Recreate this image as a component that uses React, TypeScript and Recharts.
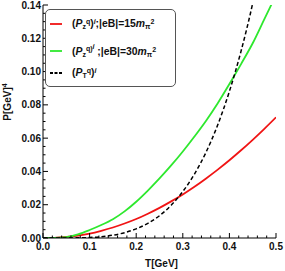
import React from 'react';
import {
  LineChart, Line, XAxis, YAxis, Legend,
} from 'recharts';

// temperature grid (GeV)
const T_VALUES = [
  0, 0.025, 0.05, 0.075, 0.1, 0.125, 0.15, 0.175, 0.2, 0.225, 0.25,
  0.275, 0.3, 0.325, 0.35, 0.375, 0.4, 0.425, 0.45, 0.475, 0.5,
];
// (Pz^q)^i, |eB| = 15 m_pi^2
const RED_VALUES = [
  0, 0.0001, 0.0006, 0.0014, 0.0026, 0.0043, 0.0063, 0.0087, 0.0114, 0.0146, 0.0181,
  0.022, 0.0262, 0.0308, 0.0358, 0.0411, 0.0467, 0.0527, 0.059, 0.0656, 0.0725,
];
// (Pz^q)^i, |eB| = 30 m_pi^2
const GREEN_VALUES = [
  0, 0.0, 0.0005, 0.0022, 0.0048, 0.0078, 0.0113, 0.016, 0.0218, 0.0285, 0.0358,
  0.0436, 0.052, 0.061, 0.0705, 0.081, 0.0925, 0.1045, 0.117, 0.1315, 0.146,
];
// (PT^q)^i
const DASHED_VALUES = [
  0, 0.0, 0.00002, 0.0001, 0.0003, 0.0008, 0.0017, 0.0032, 0.0055, 0.0088, 0.0134,
  0.0197, 0.0279, 0.0384, 0.0516, 0.068, 0.0881, 0.1123, 0.1411, 0.1767, 0.215,
];

const X_TICKS = [0, 0.1, 0.2, 0.3, 0.4, 0.5];
const X_MINOR = [
  0.02, 0.04, 0.06, 0.08, 0.12, 0.14, 0.16, 0.18, 0.22, 0.24, 0.26, 0.28,
  0.32, 0.34, 0.36, 0.38, 0.42, 0.44, 0.46, 0.48,
];
const Y_TICKS = [0, 0.02, 0.04, 0.06, 0.08, 0.1, 0.12, 0.14];
const Y_MINOR = [
  0.005, 0.01, 0.015, 0.025, 0.03, 0.035, 0.045, 0.05, 0.055, 0.065, 0.07, 0.075,
  0.085, 0.09, 0.095, 0.105, 0.11, 0.115, 0.125, 0.13, 0.135,
];

const data = T_VALUES.map((t, i) => ({
  T: t,
  red: RED_VALUES[i],
  green: GREEN_VALUES[i],
  dashed: DASHED_VALUES[i],
}));

const allX = [...X_TICKS, ...X_MINOR].sort((a, b) => a - b);
const allY = [...Y_TICKS, ...Y_MINOR].sort((a, b) => a - b);
const isMajor = (list: number[], v: number) => list.some((t) => Math.abs(t - v) < 1e-9);

const FONT = '"Liberation Sans", Arial, sans-serif';
const RED = '#f01414';
const GREEN = '#2ee82e';

function XTick(props: any) {
  const { x, y, payload, side } = props;
  const major = isMajor(X_TICKS, payload.value);
  const len = major ? 5 : 2.5;
  const dir = side === 'top' ? 1 : -1;
  return (
    <g>
      <line x1={x} x2={x} y1={y} y2={y + dir * len} stroke="#000" strokeWidth={1} />
      {major && side !== 'top' && (
        <text x={x} y={y} dy={12} textAnchor="middle" fontSize={10} fontWeight="bold"
          fontFamily={FONT} fill="#111">
          {payload.value.toFixed(1)}
        </text>
      )}
    </g>
  );
}

function YTick(props: any) {
  const { x, y, payload, side } = props;
  const major = isMajor(Y_TICKS, payload.value);
  const len = major ? 5 : 2.5;
  const dir = side === 'right' ? -1 : 1;
  return (
    <g>
      <line x1={x} x2={x + dir * len} y1={y} y2={y} stroke="#000" strokeWidth={1} />
      {major && side !== 'right' && (
        <text x={x - 2} y={y} dy="0.36em" textAnchor="end" fontSize={10} fontWeight="bold"
          fontFamily={FONT} fill="#111">
          {payload.value.toFixed(2)}
        </text>
      )}
    </g>
  );
}

const sup: React.CSSProperties = { fontSize: 7, verticalAlign: '0.5em', lineHeight: 0 };
const sub: React.CSSProperties = { fontSize: 7, verticalAlign: '-0.25em', lineHeight: 0 };

function Sample({ color, dashed }: { color: string; dashed?: boolean }) {
  return (
    <svg width={12} height={4} style={{ marginRight: 10, flexShrink: 0 }}>
      <line x1={0} x2={12} y1={2} y2={2} stroke={color} strokeWidth={1.8}
        strokeDasharray={dashed ? '3 1.5' : undefined} />
    </svg>
  );
}

function LegendBox() {
  const row: React.CSSProperties = { display: 'flex', alignItems: 'center', whiteSpace: 'nowrap' };
  return (
    <div
      style={{
        width: 125, height: 76, border: '1px solid #555', borderRadius: 5,
        background: '#fff', fontFamily: FONT, fontSize: 10.4, fontWeight: 'bold',
        color: '#111', paddingLeft: 4, boxSizing: 'content-box',
      }}
    >
      <div style={{ ...row, height: 27 }}>
        <Sample color={RED} />
        <span>
          (<i>P</i><span style={sub}>z</span><span style={sup}>q</span>)<span style={sup}><i>i</i></span>;|eB|=15<i>m</i><span style={sub}>π</span><span style={sup}>2</span>
        </span>
      </div>
      <div style={{ ...row, height: 28 }}>
        <Sample color={GREEN} />
        <span>
          (<i>P</i><span style={sub}>z</span><span style={sup}>q)<span style={{ verticalAlign: '0.3em' }}><i>i</i></span></span> ;|eB|=30<i>m</i><span style={sub}>π</span><span style={sup}>2</span>
        </span>
      </div>
      <div style={{ ...row, height: 15 }}>
        <Sample color="#000" dashed />
        <span>
          (<i>P</i><span style={sub}>T</span><span style={sup}>q</span>)<span style={sup}><i>i</i></span>
        </span>
      </div>
    </div>
  );
}

function YTitle() {
  return (
    <text x={11} y={102} transform="rotate(-90, 11, 102)" textAnchor="middle"
      fontSize={10} fontWeight="bold" fontFamily={FONT} fill="#111">
      P[GeV]<tspan fontSize={7} dy={-4}>4</tspan>
    </text>
  );
}

export default function App() {
  return (
    <div style={{ width: 285, height: 271, background: '#fff' }}>
      <style>{'body{margin:0;background:#fff}'}</style>
      <LineChart width={285} height={271} data={data}
        margin={{ top: 5, right: 9, bottom: 0, left: 0 }}>
        <XAxis xAxisId="b" dataKey="T" type="number" domain={[0, 0.5]} ticks={allX}
          interval={0} tickSize={0} tickMargin={0} height={33} allowDataOverflow
          axisLine={{ stroke: '#000' }} tickLine={false} tick={<XTick side="bottom" />}
          label={{ value: 'T[GeV]', position: 'insideBottom', offset: 4, dx: 2,
            style: { fontSize: 10, fontWeight: 'bold', fontFamily: FONT, fill: '#111' } }} />
        <XAxis xAxisId="t" orientation="top" dataKey="T" type="number" domain={[0, 0.5]}
          ticks={allX} interval={0} tickSize={0} tickMargin={0} height={0} allowDataOverflow
          axisLine={{ stroke: '#000' }} tickLine={false} tick={<XTick side="top" />} />
        <YAxis yAxisId="l" type="number" domain={[0, 0.14]} ticks={allY} interval={0}
          tickSize={0} tickMargin={0} width={43} allowDataOverflow
          axisLine={{ stroke: '#000' }} tickLine={false} tick={<YTick side="left" />}
          label={{ content: <YTitle /> }} />
        <YAxis yAxisId="r" orientation="right" type="number" domain={[0, 0.14]} ticks={allY}
          interval={0} tickSize={0} tickMargin={0} width={0} allowDataOverflow
          axisLine={{ stroke: '#000' }} tickLine={false} tick={<YTick side="right" />} />
        <Legend layout="vertical" align="center" verticalAlign="middle"
          wrapperStyle={{ top: 9, left: 45, width: 'auto' }} content={() => <LegendBox />} />
        <Line xAxisId="t" yAxisId="r" dataKey="red" stroke="none" dot={false}
          legendType="none" isAnimationActive={false} />
        <Line xAxisId="b" yAxisId="l" type="monotone" dataKey="red" stroke={RED}
          strokeWidth={1.8} dot={false} isAnimationActive={false} />
        <Line xAxisId="b" yAxisId="l" type="monotone" dataKey="green" stroke={GREEN}
          strokeWidth={1.8} dot={false} isAnimationActive={false} />
        <Line xAxisId="b" yAxisId="l" type="monotone" dataKey="dashed" stroke="#000"
          strokeWidth={1.5} strokeDasharray="4 2.5" dot={false} isAnimationActive={false} />
      </LineChart>
    </div>
  );
}
